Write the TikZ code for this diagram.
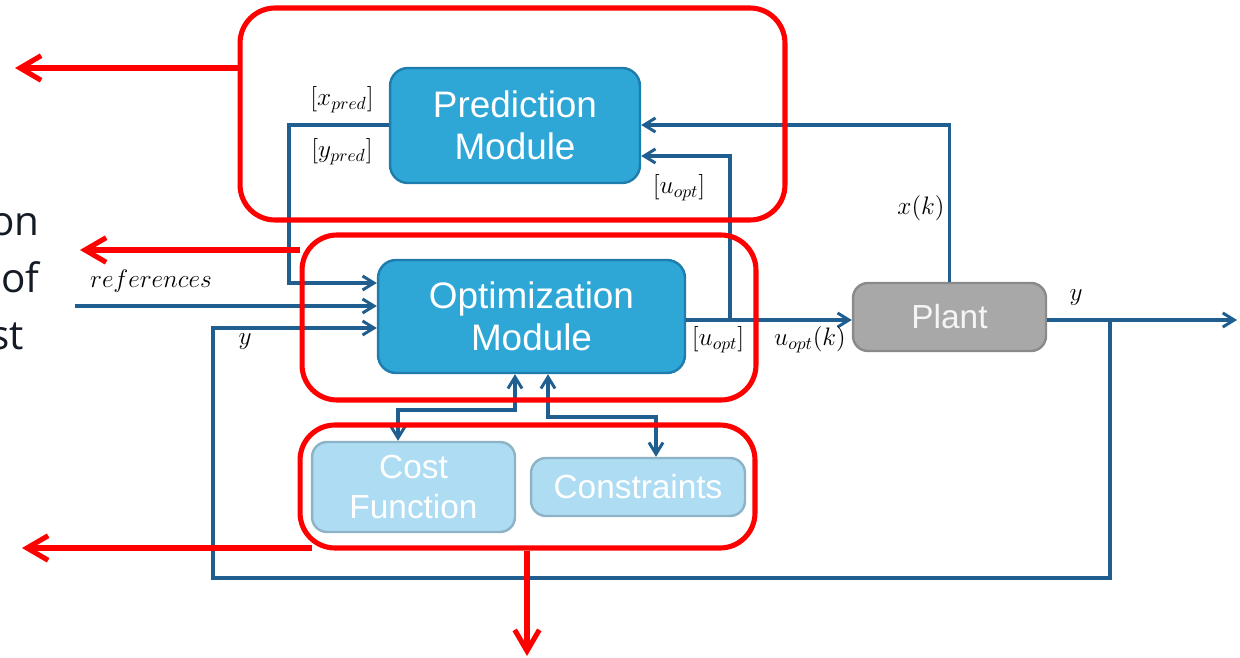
\documentclass[tikz,border=0pt]{standalone}
\usepackage{fontspec}
\setmainfont{Liberation Sans}
\newfontfamily\sidefont{Open Sans}
\usetikzlibrary{arrows.meta}
\definecolor{modblue}{HTML}{2EA7D7}
\definecolor{modedge}{HTML}{1F7DAE}
\definecolor{lightblue}{HTML}{AEDDF3}
\definecolor{lightedge}{HTML}{8EB3C6}
\definecolor{plantgray}{HTML}{A8A8A8}
\definecolor{plantedge}{HTML}{8A8A8A}
\definecolor{wire}{HTML}{1F5E8E}
\definecolor{hired}{HTML}{FF0000}
\definecolor{sidetext}{HTML}{151B24}
\begin{document}
\begin{tikzpicture}[x=0.02cm,y=-0.02cm,
  module/.style={draw=modedge,fill=modblue,line width=1.4pt,rounded corners=0.36cm,text=white,align=center,font=\fontsize{21}{24}\selectfont,inner sep=0pt},
  helper/.style={draw=lightedge,fill=lightblue,line width=1.4pt,rounded corners=0.3cm,text=white,align=center,font=\fontsize{19}{22.5}\selectfont,inner sep=0pt},
  plantbox/.style={draw=plantedge,fill=plantgray,line width=1.4pt,rounded corners=0.3cm,text=white!92!gray,align=center,font=\fontsize{19}{22}\selectfont,inner sep=0pt},
  group/.style={draw=hired,line width=2.9pt,rounded corners=0.7cm,inner sep=0pt},
  wireline/.style={draw=wire,line width=1.9pt},
  wirearrow/.style={wireline,-{Straight Barb[length=6.5pt,width=8pt,line width=1.7pt]}},
  wireboth/.style={wireline,{Straight Barb[length=6.5pt,width=8pt,line width=1.7pt]}-{Straight Barb[length=6.5pt,width=8pt,line width=1.7pt]}},
  redarrow/.style={draw=hired,line width=2.9pt,-{Straight Barb[length=12pt,width=14pt,line width=2.9pt]}},
  lbl/.style={font=\fontsize{14}{16}\selectfont,inner sep=0pt},
  side/.style={font=\sidefont\fontsize{23}{26}\selectfont,text=sidetext,inner sep=0pt,anchor=base east}
]
\useasboundingbox (0,0) rectangle (1240,658);

% side text fragments
\node[side] (s1) at (40,236) {on};
\node[side] (s2) at (40,293) {of};
\node[side] (s3) at (24,350) {st};

% modules
\node[module,minimum width=5cm,minimum height=2.3cm] (pred) at (515,125.5) {Prediction\\Module};
\node[module,minimum width=6.14cm,minimum height=2.26cm] (opt) at (531.5,316.5) {Optimization\\Module};
\node[plantbox,minimum width=3.86cm,minimum height=1.36cm] (plant) at (949.5,317) {Plant};
\node[helper,minimum width=4.06cm,minimum height=1.8cm] (cost) at (413.5,487) {Cost\\Function};
\node[helper,minimum width=4.28cm,minimum height=1.16cm] (cons) at (638,487) {Constraints};

% coordinates
\coordinate (refin) at (75,306);
\coordinate (yout) at (1237,320);
\coordinate (ytap) at (1110,320);
\coordinate (utap) at (730,320);

% wires
\draw[wirearrow] (pred.west |- 0,125) -| (289,283) -- (opt.west |- 0,283);
\draw[wirearrow] (refin) -- (opt.west |- refin);
\draw[wirearrow] (ytap) -- (1110,578) -| (213,328) -- (opt.west |- 0,328);
\draw[wirearrow] (opt.east |- utap) -- (plant.west |- utap);
\draw[wirearrow] (utap) |- (pred.east |- 0,156);
\draw[wirearrow] (plant.north) |- (pred.east |- 0,125);
\draw[wirearrow] (plant.east |- yout) -- (yout);
\draw[wireboth] (opt.south -| 515,0) -- (515,410) -| (cost.north -| 398,0);
\draw[wireboth] (opt.south -| 548,0) -- (548,417) -| (cons.north -| 656,0);

% labels
\node[lbl] (lx) at (342,100) {$[x_{pred}]$};
\node[lbl] (ly) at (342,152) {$[y_{pred}]$};
\node[lbl] (lu1) at (679,188) {$[u_{opt}]$};
\node[lbl] (lref) at (151,281) {$references$};
\node[lbl] (ly1) at (245,342) {$y$};
\node[lbl] (lu2) at (718,340) {$[u_{opt}]$};
\node[lbl] (lu3) at (810,340) {$u_{opt}(k)$};
\node[lbl] (lxk) at (921,208) {$x(k)$};
\node[lbl] (ly2) at (1076,298) {$y$};

% red groups
\node[group,minimum width=10.9cm,minimum height=4.24cm] (gtop) at (512.5,114) {};
\node[group,minimum width=9.08cm,minimum height=3.3cm] (gmid) at (529,317.5) {};
\node[group,minimum width=9.1cm,minimum height=2.46cm] (gbot) at (527.5,486.5) {};

\coordinate (r1) at (15,68);
\coordinate (r2) at (80,250);
\coordinate (r3s) at (312,548);
\coordinate (r3) at (22,548);
\coordinate (r4) at (527,656);
\draw[redarrow] (gtop.west |- r1) -- (r1);
\draw[redarrow] (gmid.west |- r2) -- (r2);
\draw[redarrow] (r3s) -- (r3);
\draw[redarrow] (gbot.south -| r4) -- (r4);
\end{tikzpicture}
\end{document}
